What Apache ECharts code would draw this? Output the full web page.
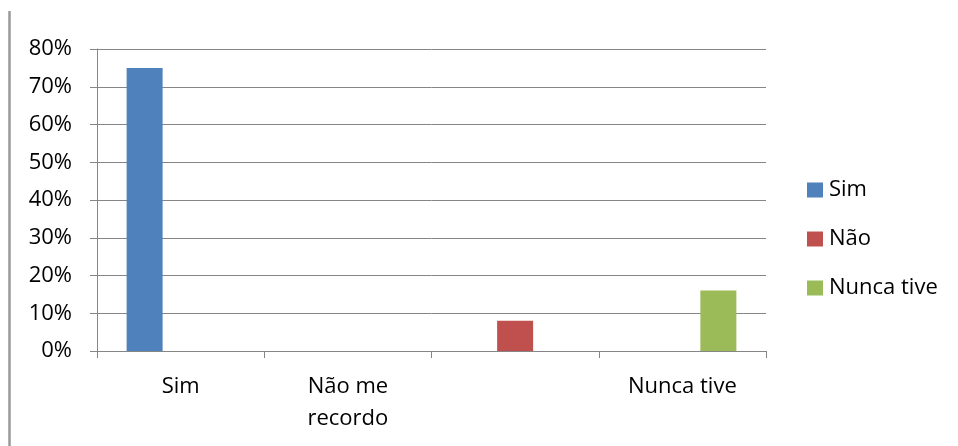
<!DOCTYPE html>
<html>
<head>
<meta charset="utf-8">
<script src="https://cdn.jsdelivr.net/npm/echarts@6/dist/echarts.min.js"></script>
<style>
html,body{margin:0;padding:0;background:#fff;}
#chart{width:958px;height:446px;}
</style>
</head>
<body>
<div id="chart"></div>
<script>
const categories = ['Sim', 'Não me\nrecordo', '', 'Nunca tive'];
const seriesNames = ['Sim', 'Não', 'Nunca tive'];
const simValues = [75, 0, 0, 0];
const naoValues = [0, 0, 8, 0];
const nuncaValues = [0, 0, 0, 16];
const yTicks = [0, 10, 20, 30, 40, 50, 60, 70, 80];
const colors = ['#4F81BD', '#C0504D', '#9BBB59'];

const FONT = 'Open Sans';
const chart = echarts.init(document.getElementById('chart'), null, {renderer: 'canvas'});
const allValues = [simValues, naoValues, nuncaValues];

chart.setOption({
  animation: false,
  textStyle: {fontFamily: FONT},
  grid: {left: 97, top: 49, right: 192, bottom: 95, containLabel: false},
  legend: {
    orient: 'vertical',
    left: 807,
    top: 179,
    padding: 0,
    itemWidth: 16,
    itemHeight: 15,
    itemGap: 27,
    icon: 'rect',
    textStyle: {fontFamily: FONT, fontSize: 22, color: '#000', lineHeight: 20, padding: [0, 0, 0, 1]},
    data: seriesNames
  },
  xAxis: {
    type: 'category',
    data: categories,
    axisLine: {lineStyle: {color: '#868686', width: 1}},
    axisTick: {show: true, length: 7, lineStyle: {color: '#868686'}},
    axisLabel: {fontFamily: FONT, fontSize: 22, color: '#000', margin: 20, lineHeight: 32, interval: 0}
  },
  yAxis: {
    type: 'value',
    min: yTicks[0],
    max: yTicks[yTicks.length - 1],
    interval: 10,
    axisLine: {show: true, lineStyle: {color: '#868686', width: 1}},
    axisTick: {show: true, length: 7, lineStyle: {color: '#868686'}},
    axisLabel: {fontFamily: FONT, fontSize: 22, color: '#000', margin: 25, formatter: '{value}%'},
    splitLine: {show: true, lineStyle: {color: '#868686', width: 1}}
  },
  series: seriesNames.map((name, i) => ({
    name: name,
    type: 'bar',
    data: allValues[i],
    barWidth: 36,
    barGap: '0%',
    itemStyle: {color: colors[i]}
  })),
  graphic: [{
    type: 'line',
    shape: {x1: 9.5, y1: 11, x2: 9.5, y2: 446},
    style: {stroke: '#999', lineWidth: 2.5}
  }]
});
</script>
</body>
</html>
